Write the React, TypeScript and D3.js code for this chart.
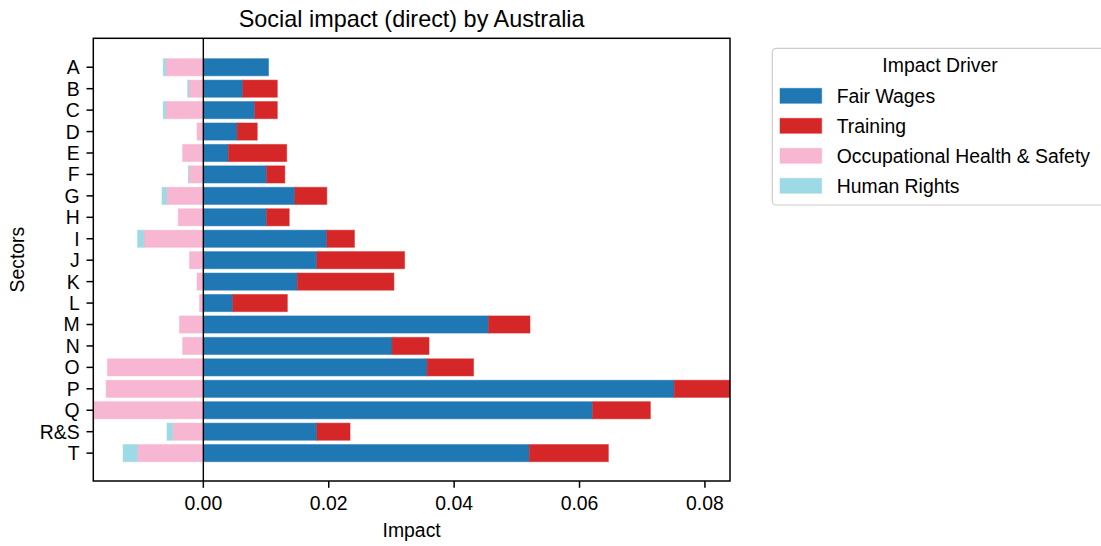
import React from "react";
import * as d3 from "d3";

const sectors = ["A","B","C","D","E","F","G","H","I","J","K","L","M","N","O","P","Q","R&S","T"];
const fairWages = [0.0104,0.0063,0.0082,0.0054,0.0040,0.0101,0.0146,0.0101,0.0197,0.0181,0.0150,0.0047,0.0455,0.0301,0.0357,0.0751,0.0621,0.0181,0.0520];
const training = [0.0,0.0055,0.0036,0.0032,0.0093,0.0029,0.0051,0.0036,0.0044,0.0140,0.0154,0.0087,0.0066,0.0059,0.0074,0.0115,0.0092,0.0053,0.0126];
const ohs = [0.0060,0.0023,0.0060,0.0010,0.0033,0.0023,0.0059,0.0040,0.0095,0.0022,0.0010,0.0006,0.0038,0.0033,0.0153,0.0155,0.0174,0.0049,0.0105];
const humanRights = [0.0004,0.0002,0.0004,0.0,0.0,0.0001,0.0007,0.0,0.0010,0.0,0.0,0.0,0.0,0.0,0.0,0.0,0.0,0.0009,0.0023];
const xTicks = [0, 0.02, 0.04, 0.06, 0.08];
const legendLabels = ["Fair Wages","Training","Occupational Health & Safety","Human Rights"];
const colors = ["#1f77b4","#d62728","#f7b6d2","#9edae5"];

const FONT = "'Liberation Sans', Arial, 'DejaVu Sans', sans-serif";

export default function App() {
  const left = 93.3, right = 730, top = 38.3, bottom = 481;
  const x = d3.scaleLinear().domain([-0.01755, 0.0840]).range([left, right]);
  const y = d3.scaleLinear().domain([-1.35, 19.3]).range([top, bottom]);
  const bh = (y(0.4) - y(-0.4));

  const rects: any[] = [];
  sectors.forEach((s, i) => {
    const segs = [
      { x0: 0, x1: fairWages[i], c: colors[0] },
      { x0: fairWages[i], x1: fairWages[i] + training[i], c: colors[1] },
      { x0: -ohs[i], x1: 0, c: colors[2] },
      { x0: -ohs[i] - humanRights[i], x1: -ohs[i], c: colors[3] },
    ];
    segs.forEach((g, k) => {
      if (g.x1 - g.x0 <= 0) return;
      rects.push(
        <rect key={`${i}-${k}`} x={x(g.x0)} y={y(i) - bh / 2} width={x(g.x1) - x(g.x0)} height={bh}
          fill={g.c} stroke={g.c} strokeOpacity={0.5} strokeWidth={1} />
      );
    });
  });

  return (
    <svg width={1101} height={546} style={{ position: "absolute", left: 0, top: 0, background: "#fff" }} fontFamily={FONT}>
      <rect x={0} y={0} width={1101} height={546} fill="#fff" />
      <defs>
        <clipPath id="plotclip">
          <rect x={left} y={top} width={right - left} height={bottom - top} />
        </clipPath>
      </defs>
      <g clipPath="url(#plotclip)">{rects}</g>
      <line x1={x(0)} x2={x(0)} y1={top} y2={bottom} stroke="#000" strokeWidth={1.4} />
      <rect x={left} y={top} width={right - left} height={bottom - top} fill="none" stroke="#000" strokeWidth={1.5} />
      {xTicks.map((t) => (
        <g key={t}>
          <line x1={x(t)} x2={x(t)} y1={bottom} y2={bottom + 6.8} stroke="#000" strokeWidth={1.5} />
          <text x={x(t)} y={510} textAnchor="middle" fontSize={19.4} fill="#000">{d3.format(".2f")(t)}</text>
        </g>
      ))}
      {sectors.map((s, i) => (
        <g key={s}>
          <line x1={left - 6.8} x2={left} y1={y(i)} y2={y(i)} stroke="#000" strokeWidth={1.5} />
          <text x={left - 13.6} y={y(i)} dy="0.36em" textAnchor="end" fontSize={19.4} fill="#000">{s}</text>
        </g>
      ))}
      <text x={(left + right) / 2} y={537} textAnchor="middle" fontSize={19.4} fill="#000">Impact</text>
      <text transform={`translate(24,${(top + bottom) / 2}) rotate(-90)`} textAnchor="middle" fontSize={19.4} fill="#000">Sectors</text>
      <text x={(left + right) / 2} y={27} textAnchor="middle" fontSize={23.4} fill="#000">Social impact (direct) by Australia</text>
      <g>
        <rect x={772.3} y={48.3} width={340} height={156.7} rx={4} fill="#fff" fillOpacity={0.8} stroke="#cccccc" strokeWidth={1.2} />
        <text x={940} y={72} textAnchor="middle" fontSize={19.4} fill="#000">Impact Driver</text>
        {legendLabels.map((l, k) => (
          <g key={l}>
            <rect x={780} y={88.3 + k * 30} width={41.7} height={15} fill={colors[k]} stroke={colors[k]} strokeOpacity={0.5} />
            <text x={836.7} y={95.8 + k * 30} dy="0.36em" fontSize={19.4} fill="#000">{l}</text>
          </g>
        ))}
      </g>
    </svg>
  );
}
